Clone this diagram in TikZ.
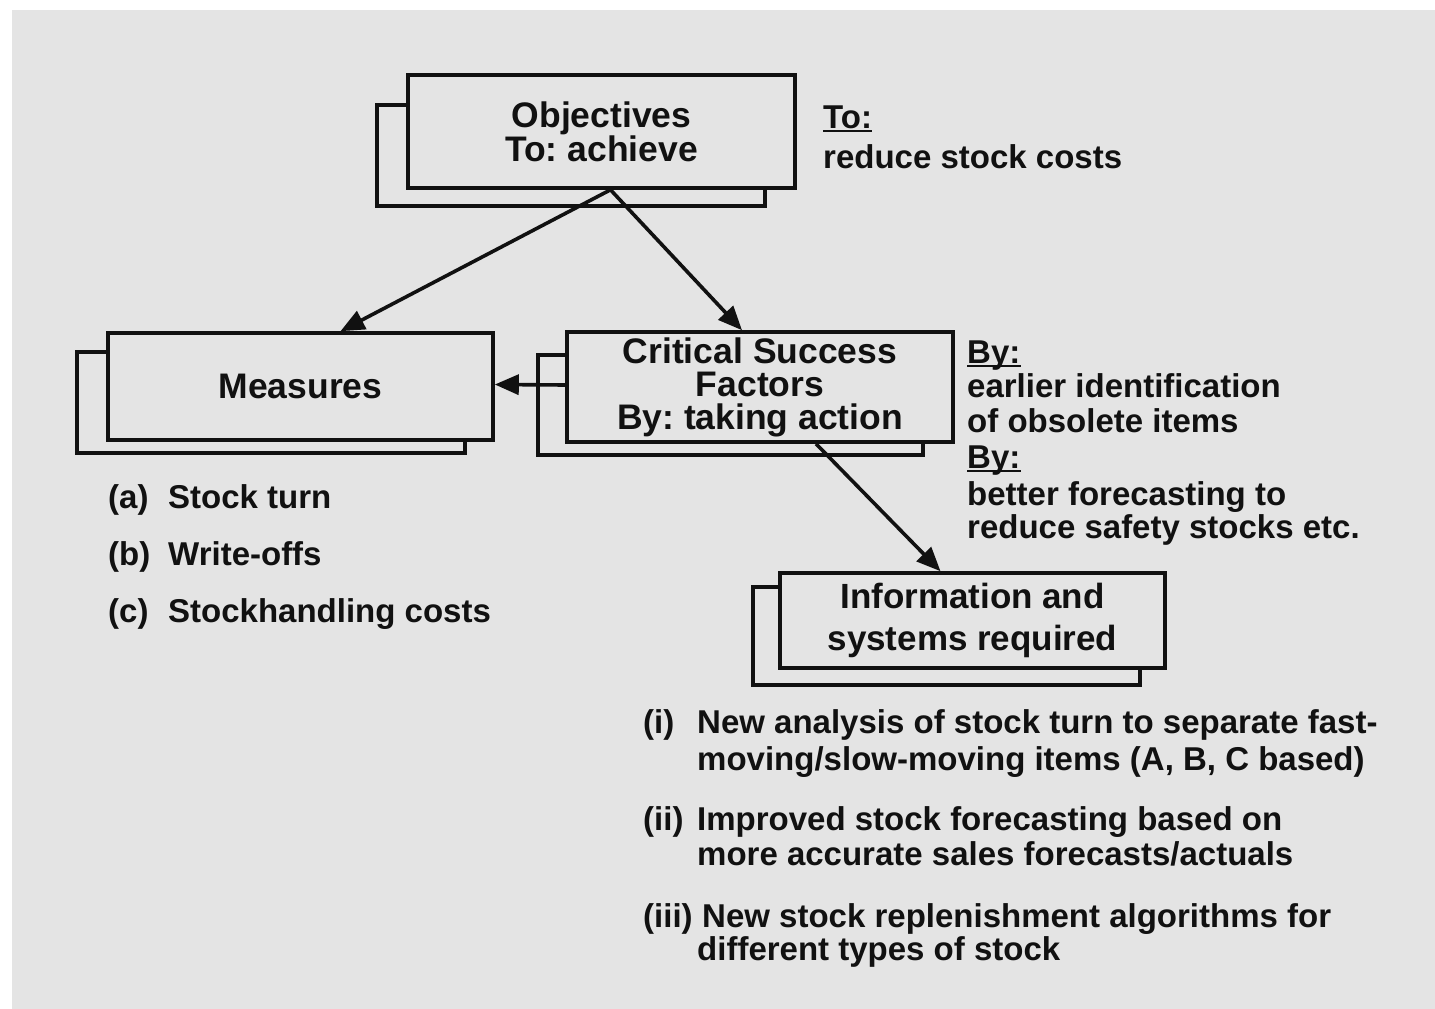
\documentclass[tikz,border=0pt]{standalone}
\usepackage{fontspec}
\setmainfont{Liberation Sans}
\usetikzlibrary{arrows.meta,calc}
\frenchspacing

\definecolor{panel}{HTML}{E4E4E4}
\definecolor{ink}{HTML}{111111}

\tikzset{
  boxback/.style={draw=ink, line width=3.6pt, fill=panel, inner sep=0pt},
  boxfront/.style={draw=ink, line width=3.6pt, fill=panel, inner sep=0pt,
    align=center, text=ink, font=\bfseries\fontsize{35.5}{33}\selectfont},
  flow/.style={draw=ink, line width=3.6pt, -{Triangle[length=24pt,width=20pt]}},
  note/.style={inner sep=0pt, anchor=base west, text=ink,
    font=\bfseries\fontsize{33}{36}\selectfont},
  rule/.style={draw=ink, line width=2.5pt},
}

\begin{document}
\begin{tikzpicture}[x=1pt,y=-1pt]
\useasboundingbox (0,0) rectangle (1435,1009);
\fill[panel] (12,10) rectangle (1435,1009);

% stacked boxes: a back sheet offset down-left, the labelled sheet on top
\node[boxback, minimum width=388, minimum height=101] (objB) at (571,155.5) {};
\node[boxfront, minimum width=387, minimum height=113] (obj) at (601.5,131.5)
  {Objectives\\To: achieve};

\node[boxback, minimum width=388, minimum height=101] (measB) at (271,402.5) {};
\node[boxfront, minimum width=385, minimum height=107] (meas) at (300.5,386.5)
  {Measures};

\node[boxback, minimum width=385, minimum height=100] (csfB) at (730.5,405) {};
\node[boxfront, minimum width=386, minimum height=110] (csf) at (760,387)
  {Critical Success\\Factors\\By: taking action};

\node[boxback, minimum width=387, minimum height=98] (infoB) at (946.5,636) {};
\node[boxfront, minimum width=385, minimum height=95,
  font=\bfseries\fontsize{35}{42}\selectfont] (info) at (972.5,620.5)
  {Information and\\systems required};

% connectors
\coordinate (objOut) at ($(obj.south)+(9,0)$);
\draw[flow] (objOut) -- ($(meas.north)+(40,0)$);
\draw[flow] (objOut) -- ($(csf.north)+(-18,0)$);
\draw[flow] ($(csf.west)+(0,-2)$) -- ($(meas.east)+(0,-2)$);
\draw[flow] ($(csf.south)+(56,0)$) -- ($(info.north)+(-32,0)$);

% objective note
\node[note] (toLbl) at (823,128) {To:};
\draw[rule] ($(toLbl.base west)+(0,3)$) -- ($(toLbl.base east)+(0,3)$);
\node[note] (toTxt) at (823,168) {reduce stock costs};

% success factor notes
\node[note] (byA) at (967,363) {By:};
\draw[rule] ($(byA.base west)+(0,3)$) -- ($(byA.base east)+(0,3)$);
\node[note] (byA1) at (967,397) {earlier identification};
\node[note] (byA2) at (967,432) {of obsolete items};
\node[note] (byB) at (967,468) {By:};
\draw[rule] ($(byB.base west)+(0,3)$) -- ($(byB.base east)+(0,3)$);
\node[note] (byB1) at (967,505) {better forecasting to};
\node[note] (byB2) at (967,538) {reduce safety stocks etc.};

% measures list
\node[note] (mA) at (108,508) {(a)};
\node[note] (mAt) at (168,508) {Stock turn};
\node[note] (mB) at (108,565) {(b)};
\node[note] (mBt) at (168,565) {Write-offs};
\node[note] (mC) at (108,622) {(c)};
\node[note] (mCt) at (168,622) {Stockhandling costs};

% information list
\node[note] (iA) at (643,733) {(i)};
\node[note] (iA1) at (697,733) {New analysis of stock turn to separate fast-};
\node[note] (iA2) at (697,770) {moving/slow-moving items (A, B, C based)};
\node[note] (iB) at (643,830) {(ii)};
\node[note] (iB1) at (697,830) {Improved stock forecasting based on};
\node[note] (iB2) at (697,865) {more accurate sales forecasts/actuals};
\node[note] (iC) at (643,927) {(iii)};
\node[note] (iC1) at (702,927) {New stock replenishment algorithms for};
\node[note] (iC2) at (697,960) {different types of stock};
\end{tikzpicture}
\end{document}
